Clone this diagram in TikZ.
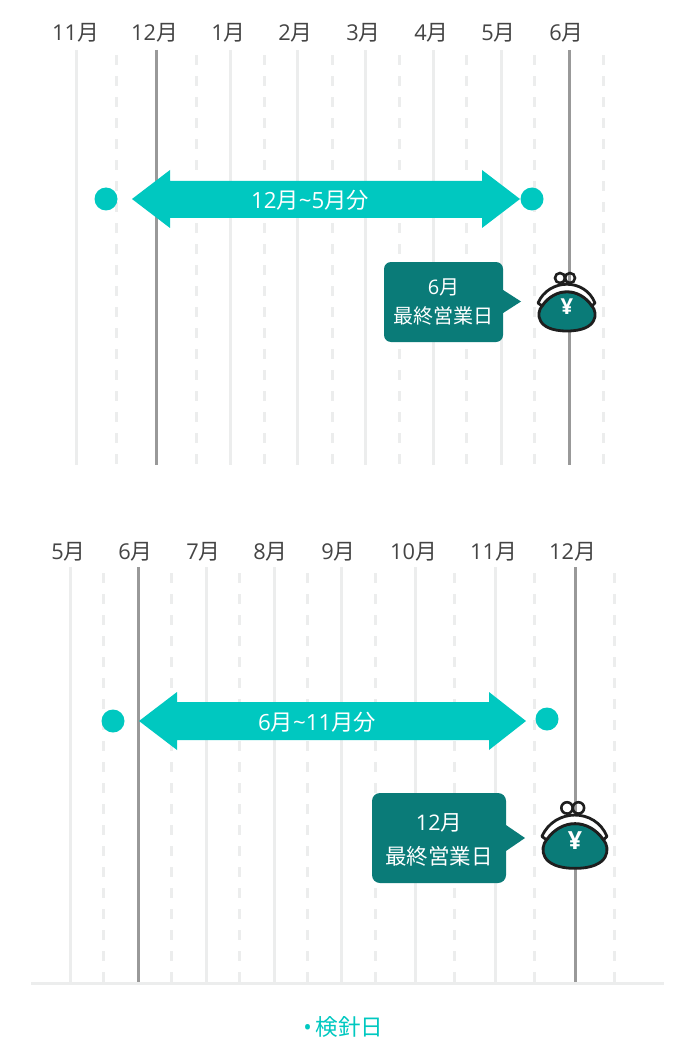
\documentclass[tikz,border=0pt]{standalone}
\usepackage{fontspec}
\setmainfont{Open Sans}
\newfontfamily\cjk{Noto Sans CJK JP}
\usetikzlibrary{positioning}
\definecolor{grid_light}{RGB}{236,237,237}
\definecolor{grid_dark}{RGB}{153,153,153}
\definecolor{label_gray}{RGB}{68,68,68}
\definecolor{span_teal}{RGB}{0,200,192}
\definecolor{note_teal}{RGB}{10,123,120}
\definecolor{purse_ink}{RGB}{30,30,30}
\newcommand{\mon}[1]{#1{\cjk 月}}
\tikzset{
  monthline/.style={grid_light,line width=3.6pt,xshift=0.5pt},
  halfline/.style={grid_light,line width=3.6pt,xshift=0.5pt,dash pattern=on 10pt off 11pt},
  payline/.style={grid_dark,line width=3.6pt,xshift=0.5pt},
  monthlabel/.style={text=label_gray,font=\fontsize{21.8}{25}\selectfont},
  meterdot/.style={circle,fill=span_teal,inner sep=0pt,minimum size=23pt},
  spanlabel/.style={text=white,font=\fontsize{22.3}{26}\selectfont},
  notebox/.style={fill=note_teal,inner sep=0pt,align=center,text=white},
  purse/.pic={
    \fill[note_teal,draw=purse_ink,line width=2.8pt,line join=round] (-25,6) .. controls (-31,13) and (-31,31) .. (0,31)
      .. controls (31,31) and (31,13) .. (25,6) .. controls (12,-13) and (-12,-13) .. (-25,6) -- cycle;
    \fill[white,draw=purse_ink,line width=2.8pt,line join=round] (-25,6) -- (-29,3) .. controls (-18,-22) and (18,-22) .. (28,3)
      -- (25,6) .. controls (12,-13) and (-12,-13) .. (-25,6) -- cycle;
    \draw[purse_ink,line width=2.6pt] (-7,-22) circle (5);
    \draw[purse_ink,line width=2.6pt] (3,-22) circle (5);
    \node (yen) [text=white,font=\fontsize{#1}{#1}\selectfont\bfseries] at (0,7) {¥};
  }
}
\begin{document}
\begin{tikzpicture}[x=1pt,y=-1pt]
\useasboundingbox (0,0) rectangle (680,1059);
% upper chart
\foreach \x in {76,230,297,365,433,501} \draw[monthline] (\x,50)--(\x,465);
\foreach \x in {116,196,264,332,399,466,534,603} \draw[halfline] (\x,55)--(\x,468);
\foreach \x in {156,569} \draw[payline] (\x,50)--(\x,465);
\foreach \x/\m in {75.5/11,154.5/12,228.5/1,295.5/2,363.5/3,431.5/4,498.5/5,566.5/6}
  \node (top\m) [monthlabel] at (\x,33) {\mon{\m}};
\fill[span_teal] (132,199)--(170,170)--(170,181)--(482,181)--(482,170)--(520,199)--(482,228)--(482,218)--(170,218)--(170,228)--cycle;
\node (topspan) [spanlabel] at (310,200) {12{\cjk 月}\textasciitilde 5{\cjk 月分}};
\node (topdot1) [meterdot] at (106,199) {};
\node (topdot2) [meterdot] at (532,199) {};
\fill[note_teal] (500,288)--(521,301.5)--(500,315)--cycle;
\node (topnote) [notebox,rounded corners=7pt,minimum width=119pt,minimum height=80pt,font=\fontsize{20}{29}\selectfont] at (443.5,302) {\mon{6}\\{\cjk 最終営業日}};
\pic at (567,300) {purse=22};
% lower chart
\foreach \x in {70,206,274,341,415,495} \draw[monthline] (\x,567)--(\x,983);
\foreach \x in {103,171,239,307,375,454,534,614} \draw[halfline] (\x,573)--(\x,987);
\foreach \x in {138,575} \draw[payline] (\x,567)--(\x,983);
\draw[monthline,xshift=-0.5pt] (31,983.5)--(664,983.5);
\foreach \x/\m in {68.5/5,135.5/6,203.5/7,270.5/8,338.5/9,413.5/10,493.5/11,572.5/12}
  \node (low\m) [monthlabel] at (\x,552) {\mon{\m}};
\fill[span_teal] (139,721)--(177,692)--(177,702)--(489,702)--(489,692)--(526,721)--(489,750)--(489,740)--(177,740)--(177,750)--cycle;
\node (lowspan) [spanlabel] at (317,722) {6{\cjk 月}\textasciitilde 11{\cjk 月分}};
\node (lowdot1) [meterdot] at (113,721) {};
\node (lowdot2) [meterdot] at (547,719) {};
\fill[note_teal] (503,823)--(525,838)--(503,853)--cycle;
\node (lownote) [notebox,rounded corners=8pt,minimum width=134pt,minimum height=90pt,font=\fontsize{21.5}{34}\selectfont] at (439,838) {\rule{0pt}{21pt}\mon{12}\\{\cjk 最終営業日}};
\pic[scale=1.14] at (575,833) {purse=25};
% legend
\node (legend) [text=span_teal,font=\fontsize{22.6}{26}\selectfont] at (343.5,1027) {•\,{\cjk 検針日}};
\end{tikzpicture}
\end{document}
